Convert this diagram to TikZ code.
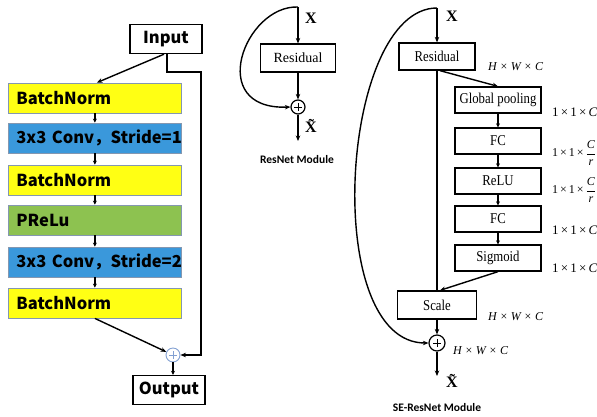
\documentclass[tikz,border=0pt]{standalone}
\usepackage{amsmath}
\usepackage{fontspec}
\setmainfont{Liberation Serif}
\newfontfamily\cjk{Noto Sans CJK SC}
\newfontfamily\titlefont{Carlito}
\newfontfamily\condserif{Liberation Serif}[FakeStretch=0.85]
\usetikzlibrary{arrows.meta}
\definecolor{lyellow}{RGB}{255,255,20}
\definecolor{lblue}{RGB}{58,152,219}
\definecolor{lgreen}{RGB}{141,194,80}
\definecolor{lborder}{RGB}{132,151,176}
\definecolor{plusblue}{RGB}{130,160,210}
\newcommand{\fracCr}{$\dfrac{\text{\itshape C}}{\text{\itshape r}}$}
\tikzset{
  layer/.style={draw=lborder, line width=0.8pt, minimum height=30pt, text width=157pt,
    inner xsep=8pt, inner ysep=0pt, align=left, anchor=west,
    font=\cjk\bfseries\fontsize{16.5}{16.5}\selectfont},
  iobox/.style={draw=black, line width=1.4pt, minimum width=72pt, minimum height=29pt,
    inner sep=0pt, font=\cjk\bfseries\fontsize{16.5}{16.5}\selectfont},
  sebox/.style={draw=black, line width=1.3pt, minimum width=86pt, minimum height=26pt,
    inner sep=0pt, font=\condserif\fontsize{15}{15}\selectfont},
  arr/.style={-{Stealth[length=5.5pt,width=4.5pt]}, line width=1.4pt},
  smallarr/.style={-{Stealth[length=4pt,width=4pt]}, line width=1.3pt},
  dimlab/.style={anchor=west, inner sep=0pt, font=\fontsize{13}{13}\selectfont},
  hwc/.style={anchor=west, inner sep=0pt, font=\itshape\fontsize{12}{12}\selectfont},
  bigx/.style={inner sep=0pt, font=\bfseries\fontsize{16}{16}\selectfont},
  ttl/.style={inner sep=0pt, font=\titlefont\bfseries\fontsize{11.5}{11.5}\selectfont},
  plus/.style={circle, draw, line width=1.2pt, minimum size=14pt, inner sep=0pt,
    path picture={\draw[line width=0.8pt]
      ([yshift=-4pt]path picture bounding box.center) -- ([yshift=4pt]path picture bounding box.center)
      ([xshift=-4pt]path picture bounding box.center) -- ([xshift=4pt]path picture bounding box.center);}}
}
\begin{document}
\begin{tikzpicture}[x=1pt,y=-1pt]
\useasboundingbox (0,0) rectangle (597,416);

% ---------- left network ----------
\node[iobox] (in) at (166,39) {Input};
\node[layer, fill=lyellow] (bn1) at (8,98) {BatchNorm};
\node[layer, fill=lblue] (conv1) at (8,138) {\mbox{3x3 Conv，Stride=1}};
\node[layer, fill=lyellow] (bn2) at (8,180) {BatchNorm};
\node[layer, fill=lgreen] (prelu) at (8,220) {PReLu};
\node[layer, fill=lblue] (conv2) at (8,262) {\mbox{3x3 Conv，Stride=2}};
\node[layer, fill=lyellow] (bn3) at (8,303) {BatchNorm};
\node[plus, draw=plusblue, line width=0.9pt] (pl) at (173,355) {};
\node[iobox] (out) at (169,390) {Output};

\draw[arr] ([xshift=-2pt]in.south) -- ([xshift=2pt]bn1.north);
\draw[smallarr] (bn1.south) -- (conv1.north);
\draw[smallarr] (conv1.south) -- (bn2.north);
\draw[smallarr] (bn2.south) -- (prelu.north);
\draw[smallarr] (prelu.south) -- (conv2.north);
\draw[smallarr] (conv2.south) -- (bn3.north);
\draw[arr] (bn3.south) -- (pl);
\coordinate (s2) at (201,72);
\coordinate (s3) at (201,355);
\draw[arr] ([xshift=1pt]in.south) |- (s2) -- (s3) -- (pl.east);
\draw[smallarr] (pl.south) -- ([xshift=4pt]out.north);

% ---------- ResNet module ----------
\coordinate (x1) at (298,7);
\node[bigx] (xl1) at (311,18) {X};
\node[draw=black, line width=1.2pt, minimum width=75pt, minimum height=28pt, inner sep=0pt,
  font=\fontsize{14}{14}\selectfont] (res1) at (298,58) {Residual};
\node[plus] (p1) at (298,107) {};
\coordinate (o1) at (298,141);
\node[bigx] (xt1) at (311,126) {\~{X}};
\node[ttl] (t1) at (297,160) {ResNet Module};
\draw[arr] (x1) -- (res1.north);
\draw[arr] (res1.south) -- (p1.north);
\draw[arr] (x1) .. controls (245,5) and (205,110) .. (p1.west);
\draw[arr] (p1.south) -- (o1);

% ---------- SE-ResNet module ----------
\coordinate (x2) at (437,8);
\node[bigx] (xl2) at (452,16) {X};
\node[sebox, minimum width=76pt, minimum height=27pt] (res2) at (437,56.5) {Residual};
\node[hwc] (d0) at (488,67) {H × W × C};
\node[sebox] (gp) at (498,100) {Global pooling};
\node[sebox] (fc1) at (498,141) {FC};
\node[sebox] (relu) at (498,181) {ReLU};
\node[sebox] (fc2) at (498,219) {FC};
\node[sebox] (sig) at (498,258) {Sigmoid};
\node[dimlab] (d1) at (552,112) {1\,×\,1\,×\,\textit{C}};
\node[dimlab, font=\fontsize{12}{12}\selectfont] (d2) at (552,153) {1\,×\,1\,×\,\fracCr};
\node[dimlab, font=\fontsize{12}{12}\selectfont] (d3) at (552,190) {1\,×\,1\,×\,\fracCr};
\node[dimlab] (d4) at (552,230) {1\,×\,1\,×\,\textit{C}};
\node[dimlab] (d5) at (552,268) {1\,×\,1\,×\,\textit{C}};
\node[sebox, minimum width=79pt, minimum height=28pt] (scale) at (437,305) {Scale};
\node[hwc] (d6) at (488,317) {H × W × C};
\node[plus, minimum size=16pt] (p2) at (437,343) {};
\node[hwc] (d7) at (453,351) {H × W × C};
\coordinate (o2) at (437,376);
\node[bigx] (xt2) at (452,381) {\~{X}};
\node[ttl] (t2) at (437,407) {SE-ResNet Module};

\draw[arr] (x2) -- (res2.north);
\draw[arr] ([xshift=3pt]res2.south) -- (gp.north);
\draw[smallarr] (gp.south) -- (fc1.north);
\draw[smallarr] (fc1.south) -- (relu.north);
\draw[smallarr] (relu.south) -- (fc2.north);
\draw[smallarr] (fc2.south) -- (sig.north);
\draw[line width=1.4pt] (res2.south) -- (scale.north);
\draw[arr] (sig.south) -- ([xshift=3pt]scale.north);
\draw[arr] (scale.south) -- (p2.north);
\draw[arr] (x2) .. controls (340,8) and (320,343) .. (p2.west);
\draw[arr] (p2.south) -- (o2);
\end{tikzpicture}
\end{document}
